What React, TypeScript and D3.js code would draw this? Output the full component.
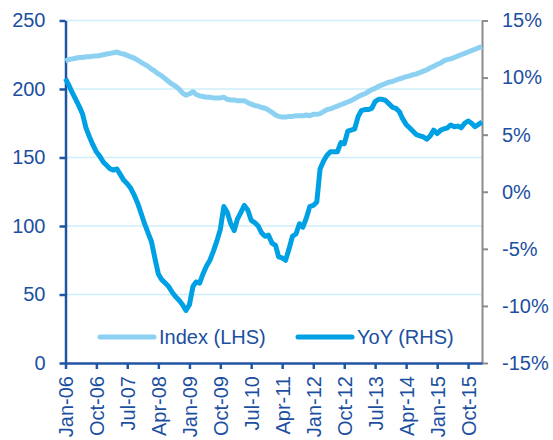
import React, { useRef, useEffect } from "react";
import * as d3 from "d3";

// x axis tick labels (every 9 months)
const tickLabels = [
  "Jan-06", "Oct-06", "Jul-07", "Apr-08", "Jan-09", "Oct-09", "Jul-10",
  "Apr-11", "Jan-12", "Oct-12", "Jul-13", "Apr-14", "Jan-15", "Oct-15",
];

// monthly values, Jan-06 .. Feb-16
const indexValues = [
  220.5, 221.5, 222, 222.5, 223, 223, 223.5, 223.5, 224, 224, 224.5, 225,
  225.5, 226, 226.5, 227, 226, 225.5, 224.5, 223.5, 222.5, 221, 219.5, 218,
  216.5, 214.5, 213, 211, 209.5, 207.5, 205.5, 203.5, 202, 200, 197, 195.5,
  196.5, 198, 196, 195, 194.5, 194, 194, 193.5, 193.5, 193.5, 194, 192.5,
  192, 192, 191.5, 191.5, 191.5, 190, 189, 188, 187.5, 186.5, 186, 184.5,
  183, 181, 180, 179.5, 179.5, 180, 180, 180.5, 180.5, 180.5, 181, 180.5,
  181.5, 181.5, 182, 183.5, 185, 185.5, 186.5, 187.5, 188.5, 189.5, 190.5, 191.5,
  193, 194.5, 195.5, 196.5, 198, 199.5, 200.5, 202, 203, 204, 205, 205.5,
  206.5, 207.5, 208, 209, 209.5, 210.5, 211, 212, 213, 214, 215.5, 216.5,
  218, 219, 220.5, 221.5, 222, 223, 224, 225, 226, 227, 228, 229,
  230, 231,
];

const yoyValues = [
  9.9, 9.3, 8.7, 8.1, 7.5, 6.8, 5.6, 4.8, 4.1, 3.5, 3.1, 2.6,
  2.3, 2.0, 1.9, 2.0, 1.5, 1.0, 0.7, 0.3, -0.3, -1.0, -1.9, -2.8,
  -3.6, -4.4, -5.8, -7.2, -7.7, -8.0, -8.3, -8.8, -9.2, -9.5, -9.9, -10.4,
  -9.9, -8.3, -7.9, -8.0, -7.2, -6.5, -6.0, -5.2, -4.3, -3.3, -1.3, -1.8,
  -2.8, -3.4, -2.4, -1.8, -1.2, -1.6, -2.5, -2.7, -3.0, -3.6, -3.9, -3.8,
  -4.5, -4.7, -5.7, -5.8, -6.0, -5.0, -3.9, -3.7, -2.8, -3.1, -2.3, -1.3,
  -1.2, -0.9, 2.0, 2.7, 3.2, 3.5, 3.5, 3.5, 4.3, 4.2, 5.3, 5.4,
  5.5, 6.6, 7.1, 7.2, 7.2, 7.3, 7.9, 8.1, 8.1, 8.0, 7.7, 7.4,
  7.3, 7.0, 6.4, 5.9, 5.6, 5.3, 5.0, 4.9, 4.8, 4.6, 4.9, 5.4,
  5.1, 5.4, 5.5, 5.6, 5.85, 5.7, 5.75, 5.6, 6.0, 6.2, 6.0, 5.7,
  5.9, 6.1,
];

const leftTicks = [0, 50, 100, 150, 200, 250];
const rightTicks = [-15, -10, -5, 0, 5, 10, 15];

const App = () => {
  const svgRef = useRef(null);

  useEffect(() => {
    const root = d3.select(svgRef.current);
    root.selectAll("*").remove();

    const font = "'Liberation Sans', Arial, sans-serif";
    const textColor = "#1c4f9f";
    const axisColor = "#1f55a5";

    // set the dimensions and margins of the graph
    const margin = { top: 20.5, right: 71, bottom: 77, left: 65.5 };
    const width = 553 - margin.left - margin.right;
    const height = 440 - margin.top - margin.bottom;

    const svg = root.append("g")
      .attr("transform", `translate(${margin.left}, ${margin.top})`);

    const parseTime = d3.timeParse("%b-%y");
    const start = parseTime("Jan-06");
    const dates = indexValues.map((_, i) => d3.timeMonth.offset(start, i));

    const x = d3.scaleTime()
      .domain([start, dates[dates.length - 1]])
      .range([0, width]);
    const y = d3.scaleLinear().domain([0, 250]).range([height, 0]);
    const y2 = d3.scaleLinear().domain([-15, 15]).range([height, 0]);

    // gridlines
    svg.append("g")
      .selectAll("line")
      .data(leftTicks.filter((d) => d > 0))
      .join("line")
      .attr("x1", 0)
      .attr("x2", width)
      .attr("y1", (d) => y(d))
      .attr("y2", (d) => y(d))
      .attr("stroke", "#cdeefa")
      .attr("stroke-width", 1.5);

    // right axis
    const right = svg.append("g")
      .attr("transform", `translate(${width}, 0)`)
      .call(d3.axisRight(y2).tickValues(rightTicks).tickSize(6).tickSizeOuter(0)
        .tickPadding(14).tickFormat((d) => `${d}%`));
    right.select(".domain").attr("stroke", "#8c8c8c").attr("stroke-width", 2);
    right.selectAll(".tick line").attr("stroke", "#8c8c8c").attr("stroke-width", 2);

    // left axis
    const left = svg.append("g")
      .call(d3.axisLeft(y).tickValues(leftTicks).tickSize(6).tickSizeOuter(0).tickPadding(14));
    left.select(".domain").attr("stroke", axisColor).attr("stroke-width", 2.5);
    left.selectAll(".tick line").attr("stroke", axisColor).attr("stroke-width", 2.5);

    // bottom axis
    const bottom = svg.append("g")
      .attr("transform", `translate(0, ${height})`)
      .call(d3.axisBottom(x).tickValues(tickLabels.map(parseTime)).tickSize(6)
        .tickSizeOuter(0).tickFormat(d3.timeFormat("%b-%y")));
    bottom.select(".domain").attr("stroke", axisColor).attr("stroke-width", 2.5);
    bottom.selectAll(".tick line").attr("stroke", axisColor).attr("stroke-width", 2.5);
    bottom.selectAll(".tick text")
      .attr("transform", "rotate(-90)")
      .attr("x", -13)
      .attr("y", 0)
      .attr("dy", "0.35em")
      .attr("text-anchor", "end");

    root.selectAll(".tick text")
      .attr("fill", textColor)
      .attr("font-family", font)
      .attr("font-size", 20);

    // add the lines
    const indexLine = d3.line()
      .x((d, i) => x(dates[i]))
      .y((d) => y(d));
    const yoyLine = d3.line()
      .x((d, i) => x(dates[i]))
      .y((d) => y2(d));

    svg.append("path")
      .datum(indexValues)
      .attr("fill", "none")
      .attr("stroke", "#8dd1f2")
      .attr("stroke-width", 5)
      .attr("stroke-linejoin", "round")
      .attr("d", indexLine);

    svg.append("path")
      .datum(yoyValues)
      .attr("fill", "none")
      .attr("stroke", "#00a0e4")
      .attr("stroke-width", 5)
      .attr("stroke-linejoin", "round")
      .attr("d", yoyLine);

    // legend
    const legendItems = [
      { label: "Index (LHS)", color: "#8dd1f2", x: 100 },
      { label: "YoY (RHS)", color: "#00a0e4", x: 298 },
    ];
    const legend = root.append("g");
    legendItems.forEach((item) => {
      legend.append("line")
        .attr("x1", item.x)
        .attr("x2", item.x + 54)
        .attr("y1", 337)
        .attr("y2", 337)
        .attr("stroke", item.color)
        .attr("stroke-width", 5)
        .attr("stroke-linecap", "round");
      legend.append("text")
        .attr("x", item.x + 59)
        .attr("y", 337)
        .attr("dy", "0.35em")
        .attr("fill", textColor)
        .attr("font-family", font)
        .attr("font-size", 20)
        .text(item.label);
    });
  }, []);

  return (
    <svg ref={svgRef} width={553} height={440}
      style={{ position: "absolute", left: 0, top: 0, background: "#fff" }} />
  );
};

export default App;
